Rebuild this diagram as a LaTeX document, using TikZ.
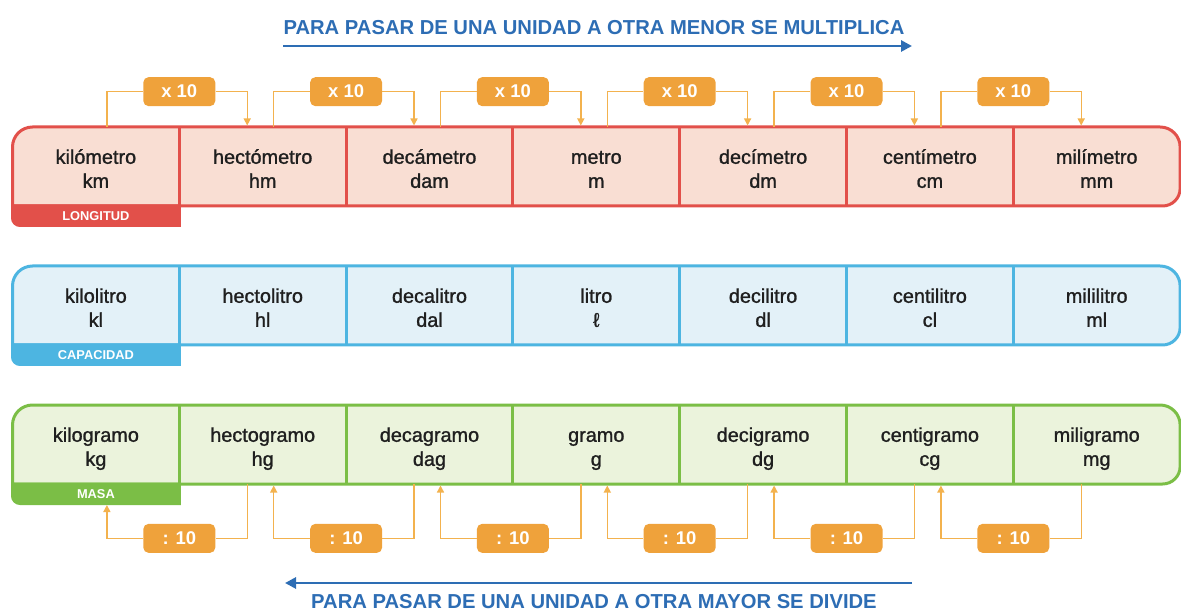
\documentclass[tikz,border=0pt]{standalone}
\usepackage{fontspec}
\setmainfont{Liberation Sans}
\newfontfamily\cellfont[FakeBold=1.2]{Liberation Sans}
\usepackage{tikz}
\usepackage{xcolor}
\usetikzlibrary{arrows.meta, positioning, calc, backgrounds}
\definecolor{LenRed}{HTML}{E2504A}
\definecolor{LenFill}{HTML}{F9DED3}
\definecolor{CapBlue}{HTML}{4DB5E1}
\definecolor{CapFill}{HTML}{E3F1F8}
\definecolor{MasGreen}{HTML}{7BBE46}
\definecolor{MasFill}{HTML}{EBF3DC}
\definecolor{BoxOrange}{HTML}{EFA23B}
\definecolor{LinkOrange}{HTML}{F3B24E}
\definecolor{RuleBlue}{HTML}{2D6DB4}
\newcommand{\unitcell}[2]{\rule{0pt}{13.6pt}#1\\#2\rule[-3pt]{0pt}{3pt}}

\begin{document}
\begin{tikzpicture}[
    cell/.style={rectangle, minimum width=3.336cm, minimum height=1.58cm, inner sep=0pt, outer sep=0pt,
                 align=center, font=\cellfont\fontsize{11.3}{13.7}\selectfont, text=black!88},
    tab/.style={rectangle, minimum width=3.336cm, minimum height=0.39cm, inner sep=0pt, outer sep=0pt,
                font=\fontsize{7.3}{8}\selectfont\bfseries, text=white},
    mult/.style={rectangle, rounded corners=3pt, fill=BoxOrange, text=white, minimum width=1.44cm,
                 minimum height=0.58cm, inner sep=0pt, font=\fontsize{10.5}{12}\selectfont\bfseries},
    link/.style={LinkOrange, line width=0.8pt},
    tip/.style={-{Triangle[length=4pt,width=4pt]}},
    frame/.style={line width=0.06cm},
    heading/.style={font=\fontsize{11.5}{13}\selectfont\bfseries, text=RuleBlue},
    flow/.style={RuleBlue, line width=1.6pt, -{Triangle[length=0.22cm,width=0.22cm]}}
]
    \useasboundingbox (0,0) rectangle (23.62,-12.28);

    % Top rule
    \node[heading] (mulText) at (11.88,-0.55) {PARA PASAR DE UNA UNIDAD A OTRA MENOR SE MULTIPLICA};
    \coordinate (mulStart) at (5.66,-0.92);
    \coordinate (mulEnd) at (18.24,-0.92);
    \draw[flow] (mulStart) -- (mulEnd);

    % Length row
    \node[cell, anchor=north west] (km) at (0.25,-2.54) {\unitcell{kilómetro}{km}};
    \node[cell, right=0pt of km] (hm) {\unitcell{hectómetro}{hm}};
    \node[cell, right=0pt of hm] (dam) {\unitcell{decámetro}{dam}};
    \node[cell, right=0pt of dam] (m) {\unitcell{metro}{m}};
    \node[cell, right=0pt of m] (dm) {\unitcell{decímetro}{dm}};
    \node[cell, right=0pt of dm] (cm) {\unitcell{centímetro}{cm}};
    \node[cell, right=0pt of cm] (mm) {\unitcell{milímetro}{mm}};
    \node[tab, anchor=north] (tabL) at (km.south) {LONGITUD};

    % Capacity row
    \node[cell, anchor=north west] (kl) at (0.25,-5.32) {\unitcell{kilolitro}{kl}};
    \node[cell, right=0pt of kl] (hl) {\unitcell{hectolitro}{hl}};
    \node[cell, right=0pt of hl] (dal) {\unitcell{decalitro}{dal}};
    \node[cell, right=0pt of dal] (l) {\unitcell{litro}{ℓ}};
    \node[cell, right=0pt of l] (dl) {\unitcell{decilitro}{dl}};
    \node[cell, right=0pt of dl] (cl) {\unitcell{centilitro}{cl}};
    \node[cell, right=0pt of cl] (ml) {\unitcell{mililitro}{ml}};
    \node[tab, anchor=north] (tabC) at (kl.south) {CAPACIDAD};

    % Mass row
    \node[cell, anchor=north west] (kg) at (0.25,-8.10) {\unitcell{kilogramo}{kg}};
    \node[cell, right=0pt of kg] (hg) {\unitcell{hectogramo}{hg}};
    \node[cell, right=0pt of hg] (dag) {\unitcell{decagramo}{dag}};
    \node[cell, right=0pt of dag] (g) {\unitcell{gramo}{g}};
    \node[cell, right=0pt of g] (dg) {\unitcell{decigramo}{dg}};
    \node[cell, right=0pt of dg] (cg) {\unitcell{centigramo}{cg}};
    \node[cell, right=0pt of cg] (mg) {\unitcell{miligramo}{mg}};
    \node[tab, anchor=north] (tabM) at (kg.south) {MASA};

    % Row frames
    \begin{scope}[on background layer]
        \filldraw[frame, draw=LenRed, fill=LenFill] (km.south west) -- ([yshift=-0.4cm]km.north west)
            arc[start angle=180, end angle=90, radius=0.4cm] -- ([xshift=-0.4cm]mm.north east)
            arc[start angle=90, end angle=0, radius=0.4cm] -- ([yshift=0.35cm]mm.south east)
            arc[start angle=0, end angle=-90, radius=0.35cm] -- cycle;
        \filldraw[frame, draw=CapBlue, fill=CapFill] (kl.south west) -- ([yshift=-0.4cm]kl.north west)
            arc[start angle=180, end angle=90, radius=0.4cm] -- ([xshift=-0.4cm]ml.north east)
            arc[start angle=90, end angle=0, radius=0.4cm] -- ([yshift=0.35cm]ml.south east)
            arc[start angle=0, end angle=-90, radius=0.35cm] -- cycle;
        \filldraw[frame, draw=MasGreen, fill=MasFill] (kg.south west) -- ([yshift=-0.4cm]kg.north west)
            arc[start angle=180, end angle=90, radius=0.4cm] -- ([xshift=-0.4cm]mg.north east)
            arc[start angle=90, end angle=0, radius=0.4cm] -- ([yshift=0.35cm]mg.south east)
            arc[start angle=0, end angle=-90, radius=0.35cm] -- cycle;
        \foreach \a in {km,hm,dam,m,dm,cm} \draw[frame, LenRed] (\a.north east) -- (\a.south east);
        \foreach \a in {kl,hl,dal,l,dl,cl} \draw[frame, CapBlue] (\a.north east) -- (\a.south east);
        \foreach \a in {kg,hg,dag,g,dg,cg} \draw[frame, MasGreen] (\a.north east) -- (\a.south east);
        \filldraw[frame, LenRed] (tabL.north west) -- (tabL.north east) -- (tabL.south east)
            -- ([xshift=0.15cm]tabL.south west) arc[start angle=270, end angle=180, radius=0.15cm] -- cycle;
        \filldraw[frame, CapBlue] (tabC.north west) -- (tabC.north east) -- (tabC.south east)
            -- ([xshift=0.15cm]tabC.south west) arc[start angle=270, end angle=180, radius=0.15cm] -- cycle;
        \filldraw[frame, MasGreen] (tabM.north west) -- (tabM.north east) -- (tabM.south east)
            -- ([xshift=0.15cm]tabM.south west) arc[start angle=270, end angle=180, radius=0.15cm] -- cycle;
    \end{scope}

    % Multiply steps
    \foreach \a/\b/\n in {km/hm/1, hm/dam/2, dam/m/3, m/dm/4, dm/cm/5, cm/mm/6} {
        \node[mult, above=0.41cm of \a.north east] (up\n) {x 10};
        \draw[link] ([xshift=0.22cm]\a.north) |- (up\n.west);
        \draw[link, tip] (up\n.east) -| ([xshift=-0.31cm, yshift=0.03cm]\b.north);
    }

    % Divide steps
    \node[mult, below=0.79cm of kg.south east] (dn1) {: 10};
    \draw[link] ([xshift=-0.31cm]hg.south) |- (dn1.east);
    \draw[link, tip] (dn1.west) -| ([xshift=0.22cm, yshift=-0.03cm]tabM.south);
    \foreach \a/\b/\n in {hg/dag/2, dag/g/3, g/dg/4, dg/cg/5, cg/mg/6} {
        \node[mult, below=0.79cm of \a.south east] (dn\n) {: 10};
        \draw[link] ([xshift=-0.31cm]\b.south) |- (dn\n.east);
        \draw[link, tip] (dn\n.west) -| ([xshift=0.22cm, yshift=-0.03cm]\a.south);
    }

    % Bottom rule
    \coordinate (divStart) at (18.24,-11.66);
    \coordinate (divEnd) at (5.7,-11.66);
    \draw[flow] (divStart) -- (divEnd);
    \node[heading] (divText) at (11.88,-12.03) {PARA PASAR DE UNA UNIDAD A OTRA MAYOR SE DIVIDE};
\end{tikzpicture}
\end{document}
